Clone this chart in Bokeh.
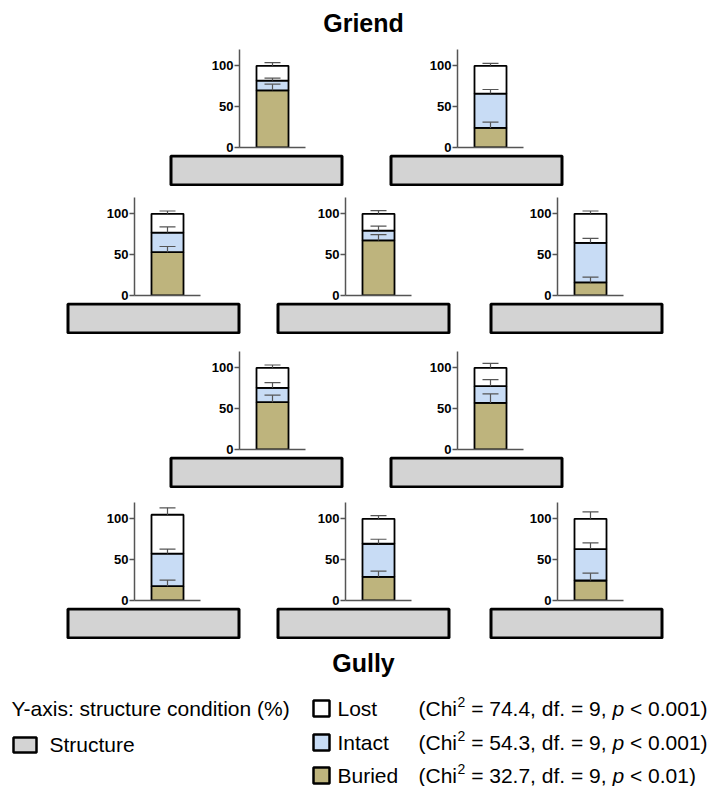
from bokeh.plotting import figure
from bokeh.models import (Range1d, LinearAxis, FixedTicker, Whisker, TeeHead,
                          ColumnDataSource, Spacer)
from bokeh.layouts import column, row
from bokeh.core.properties import value
from bokeh.embed import file_html
from bokeh.resources import INLINE

FONT = "Liberation Sans"

# ---- data (percent of structures per condition, mean + upper error) ----
sites = ["G1", "G2", "G3", "G4", "G5", "G6", "G7", "G8", "G9", "G10"]
buried = [70, 24, 53, 67.5, 16, 58, 57, 17.5, 29, 24.5]
intact = [12, 42, 24, 12, 48.5, 17.5, 20.5, 40, 40.5, 38.5]
lost = [18, 34, 23, 20.5, 35.5, 24.5, 22.5, 47.5, 30.5, 37]
buried_err = [7.5, 7, 7, 7, 6.5, 8.5, 11, 7.5, 7, 9]
intact_err = [3, 5, 7, 5.5, 5.5, 6.5, 8, 5.5, 5.5, 7.5]
lost_err = [4, 3, 3.5, 4, 3.5, 3.5, 5.5, 8.5, 4, 8.5]
y_ticks = [0, 50, 100]
structure_extent = [0, 1]

conditions = ["Lost", "Intact", "Buried"]
chi2 = ["74.4", "54.3", "32.7"]
dfs = ["9", "9", "9"]
pvals = ["0.001", "0.001", "0.01"]

BURIED_C = "#BEB47D"
INTACT_C = "#C8DCF5"
LOST_C = "#FFFFFF"
STRUCT_C = "#D3D3D3"
AXIS_C = "#555555"

panel_rows = [[0, 1], [2, 3, 4], [5, 6], [7, 8, 9]]


def make_bar(i):
    p = figure(width=106, height=110, x_range=Range1d(0, 2), y_range=Range1d(0, 120),
               x_axis_type=None, y_axis_type=None, output_backend="svg",
               toolbar_location=None, min_border_left=36, min_border_right=4,
               min_border_top=5, min_border_bottom=7, outline_line_color=None)
    src = ColumnDataSource(dict(x=[1], buried=[buried[i]], intact=[intact[i]], lost=[lost[i]]))
    p.vbar_stack(["buried", "intact", "lost"], x="x", width=0.97, source=src,
                 fill_color=[BURIED_C, INTACT_C, LOST_C], line_color="black", line_width=1.8)
    b, it, l = buried[i], intact[i], lost[i]
    esrc = ColumnDataSource(dict(x=[1, 1, 1],
                                 lo=[b, b + it, b + it + l],
                                 hi=[b + buried_err[i], b + it + intact_err[i], b + it + l + lost_err[i]]))
    w = Whisker(source=esrc, base="x", lower="lo", upper="hi", line_color=AXIS_C,
                line_width=1.2, lower_head=None, level="annotation",
                upper_head=TeeHead(size=16, line_color=AXIS_C, line_width=1.2))
    p.add_layout(w)
    yax = LinearAxis(ticker=FixedTicker(ticks=y_ticks), axis_line_color=AXIS_C,
                     axis_line_width=1.5, major_tick_line_color=AXIS_C,
                     major_tick_line_width=1.5, major_tick_out=5, major_tick_in=0,
                     minor_tick_out=0, minor_tick_in=0, major_label_standoff=1,
                     major_label_text_font=FONT, major_label_text_font_style="bold",
                     major_label_text_font_size="13px", major_label_text_color="black")
    p.add_layout(yax, "left")
    xax = LinearAxis(ticker=FixedTicker(ticks=[]), axis_line_color=AXIS_C,
                     axis_line_width=1.5, major_tick_out=0, major_tick_in=0,
                     minor_tick_out=0, minor_tick_in=0, major_label_text_font_size="0px")
    p.add_layout(xax, "below")
    return p


def make_rect():
    p = figure(width=176, height=32, x_range=Range1d(-2.5 / 171, 1 + 2.5 / 171),
               y_range=Range1d(-1.5 / 29, 1 + 1.5 / 29), x_axis_type=None, y_axis_type=None,
               output_backend="svg", toolbar_location=None, min_border=0,
               min_border_left=0, min_border_right=0, min_border_top=0, min_border_bottom=0,
               outline_line_color=None)
    p.quad(left=[structure_extent[0]], right=[structure_extent[1]],
           bottom=[structure_extent[0]], top=[structure_extent[1]],
           fill_color=STRUCT_C, line_color="black", line_width=3)
    return p


def text_fig(h, w=694):
    p = figure(width=w, height=h, x_range=Range1d(0, w), y_range=Range1d(h, 0),
               x_axis_type=None, y_axis_type=None, output_backend="svg",
               toolbar_location=None, min_border=0, min_border_left=0, min_border_right=0,
               min_border_top=0, min_border_bottom=0, outline_line_color=None)
    return p


def block(idx, axis_x, rect_x):
    bars, rects = [], []
    cur = 0
    for k, i in enumerate(idx):
        left = axis_x[k] - 36
        bars.append(Spacer(width=left - cur, height=1))
        bars.append(make_bar(i))
        cur = left + 106
    cur = 0
    for k, i in enumerate(idx):
        left = rect_x[k] - 1
        rects.append(Spacer(width=left - cur, height=1))
        rects.append(make_rect())
        cur = left + 176
    return column(row(*bars), row(*rects))


two_axis = [231, 449]
two_rect = [161, 381]
three_axis = [126, 337, 549]
three_rect = [58, 268, 481]

# titles
t1 = text_fig(36)
t1.text(x=[355], y=[14], text=["Griend"], text_font=value(FONT), text_font_style="bold",
        text_font_size="25px", text_align="center", text_baseline="middle", text_color="black")

t2 = text_fig(41)
t2.text(x=[355], y=[23], text=["Gully"], text_font=value(FONT), text_font_style="bold",
        text_font_size="25px", text_align="center", text_baseline="middle", text_color="black")

# legend
FS = 21
def tw(units):
    return units * FS / 1000.0

SPACE = tw(278)
lg = text_fig(106, 700)
lg.text(x=[3], y=[28], text=["Y-axis: structure condition (%)"], text_font=value(FONT),
        text_font_size=f"{FS}px", text_align="left", text_baseline="middle", text_color="black")
lg.quad(left=[5], right=[28], top=[57], bottom=[72], fill_color=STRUCT_C,
        line_color="black", line_width=2.5)
lg.text(x=[41], y=[64], text=["Structure"], text_font=value(FONT),
        text_font_size=f"{FS}px", text_align="left", text_baseline="middle", text_color="black")

row_y = [28, 62, 95]
cond_colors = [LOST_C, INTACT_C, BURIED_C]
for k in range(3):
    y = row_y[k]
    lg.quad(left=[305], right=[321], top=[y - 8], bottom=[y + 8], fill_color=cond_colors[k],
            line_color="black", line_width=2.5)
    lg.text(x=[329], y=[y], text=[conditions[k]], text_font=value(FONT),
            text_font_size=f"{FS}px", text_align="left", text_baseline="middle", text_color="black")
    x0 = 410
    lg.text(x=[x0], y=[y], text=["(Chi"], text_font=value(FONT), text_font_size=f"{FS}px",
            text_align="left", text_baseline="middle", text_color="black")
    x1 = x0 + tw(1833) + 0.5
    lg.text(x=[x1], y=[y - 7], text=["2"], text_font=value(FONT), text_font_size="14px",
            text_align="left", text_baseline="middle", text_color="black")
    x2 = x1 + 7.8 + SPACE
    lg.text(x=[x2], y=[y], text=["= " + chi2[k] + ", df. = " + dfs[k] + ","],
            text_font=value(FONT), text_font_size=f"{FS}px", text_align="left",
            text_baseline="middle", text_color="black")
    x3 = x2 + tw(6450) + SPACE
    lg.text(x=[x3], y=[y], text=["p"], text_font=value(FONT), text_font_size=f"{FS}px",
            text_font_style="italic", text_align="left", text_baseline="middle", text_color="black")
    x4 = x3 + tw(556) + SPACE
    lg.text(x=[x4], y=[y], text=["< " + pvals[k] + ")"], text_font=value(FONT),
            text_font_size=f"{FS}px", text_align="left", text_baseline="middle", text_color="black")

body = column(
    Spacer(width=10, height=8),
    t1,
    block(panel_rows[0], two_axis, two_rect),
    Spacer(width=10, height=6),
    block(panel_rows[1], three_axis, three_rect),
    Spacer(width=10, height=12),
    block(panel_rows[2], two_axis, two_rect),
    Spacer(width=10, height=9),
    block(panel_rows[3], three_axis, three_rect),
    t2,
    lg,
)
layout = row(Spacer(width=8, height=10), body)

open("out.html", "w").write(file_html(layout, INLINE))
